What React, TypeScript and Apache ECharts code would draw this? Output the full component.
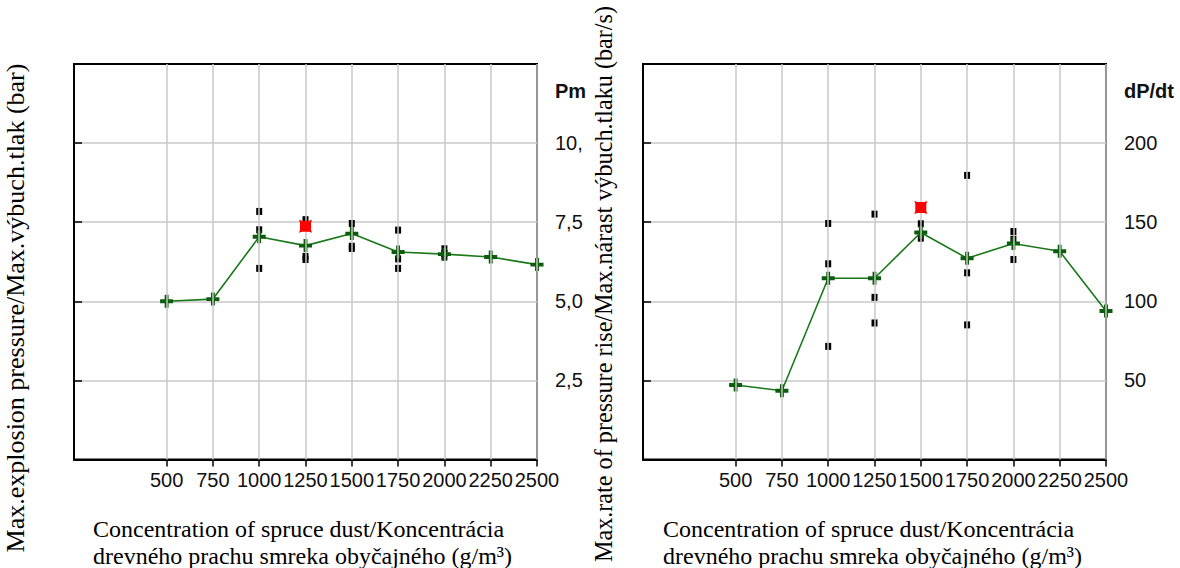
import React, { useEffect, useRef } from 'react';
import * as echarts from 'echarts';

// ---- data ----
const concentrations = [500, 750, 1000, 1250, 1500, 1750, 2000, 2250, 2500];
const xTickValues = [500, 750, 1000, 1250, 1500, 1750, 2000, 2250, 2500];

const pmaxMean = [5.0, 5.07, 7.04, 6.76, 7.14, 6.56, 6.49, 6.4, 6.16];
const pmaxRaw: [number, number][] = [
  [1000, 7.84], [1000, 7.26], [1000, 6.04],
  [1250, 7.58], [1250, 6.42], [1250, 6.32],
  [1500, 7.46], [1500, 6.74], [1500, 6.67],
  [1750, 7.25], [1750, 6.34], [1750, 6.04],
  [2000, 6.66], [2000, 6.51], [2000, 6.4],
];
const pmaxPeak: [number, number][] = [[1250, 7.37]];
const pmaxTicks = [2.5, 5, 7.5, 10];
const pmaxTickLabels = ['2,5', '5,0', '7,5', '10,'];

const dpdtMean = [47.1, 43.5, 114.6, 114.6, 143.5, 127.2, 136.5, 131.6, 93.9];
const dpdtRaw: [number, number][] = [
  [1000, 149.2], [1000, 123.7], [1000, 71.5],
  [1250, 155.1], [1250, 102.5], [1250, 86.3],
  [1500, 149.0], [1500, 139.9],
  [1750, 179.6], [1750, 118.0], [1750, 85.1],
  [2000, 144.1], [2000, 139.2], [2000, 126.4],
];
const dpdtPeak: [number, number][] = [[1500, 159.3]];
const dpdtTicks = [50, 100, 150, 200];
const dpdtTickLabels = ['50', '100', '150', '200'];

const xTitle = 'Concentration of spruce dust/Koncentrácia\ndrevného prachu smreka obyčajného (g/m³)';
const yTitleLeft = 'Max.explosion pressure/Max.výbuch.tlak (bar)';
const yTitleRight = 'Max.rate of pressure rise/Max.nárast výbuch.tlaku (bar/s)';

const PLUS = 'path://M3.5,0 H6.5 V3.5 H10 V6.5 H6.5 V10 H3.5 V6.5 H0 V3.5 H3.5 Z';
const PEAK = 'path://M0,0 L3,1 H10 L13,0 L12,3 V10 L13,13 L10,12 H3 L0,13 L1,10 V3 Z';

const SANS = 'Liberation Sans';
const SERIF = 'Liberation Serif';

export default function App() {
  const ref = useRef<HTMLDivElement>(null);

  useEffect(() => {
    const chart = echarts.init(ref.current!, null, { renderer: 'svg' });

    const makeX = (gi: number) => ({
      type: 'value',
      gridIndex: gi,
      min: 0,
      max: 2500,
      interval: 250,
      axisLine: { show: true, onZero: false, lineStyle: { color: '#000', width: 2 } },
      axisTick: { show: true, length: 7, customValues: xTickValues, lineStyle: { color: '#000', width: 1.5 } },
      axisLabel: {
        show: true,
        customValues: xTickValues,
        margin: 10,
        fontFamily: SANS,
        fontSize: 20,
        color: '#111',
        formatter: (v: number) => (xTickValues.indexOf(v) >= 0 ? String(v) : ''),
      },
      splitLine: { show: false },
    });

    const makeY = (gi: number, max: number, interval: number, ticks: number[], labels: string[]) => ({
      type: 'value',
      gridIndex: gi,
      position: 'right',
      min: 0,
      max,
      interval,
      axisLine: { show: true, lineStyle: { color: '#000', width: 2 } },
      axisTick: { show: true, length: 8, customValues: ticks, lineStyle: { color: '#000', width: 1.5 } },
      axisLabel: {
        show: true,
        customValues: ticks,
        margin: 18,
        fontFamily: SANS,
        fontSize: 20,
        color: '#111',
        formatter: (v: number) => {
          const i = ticks.indexOf(v);
          return i >= 0 ? labels[i] : '';
        },
      },
      splitLine: { show: true, lineStyle: { color: '#c8c8c8', width: 1.5 } },
    });

    const makeSeries = (
      gi: number,
      mean: number[],
      raw: [number, number][],
      peak: [number, number][]
    ) => [
      {
        type: 'scatter',
        xAxisIndex: gi,
        yAxisIndex: gi,
        data: [],
        z: 1,
        silent: true,
        markLine: {
          silent: true,
          symbol: ['none', 'none'],
          label: { show: false },
          lineStyle: { color: '#c8c8c8', width: 1.5, type: 'solid' },
          data: xTickValues.map((v) => ({ xAxis: v })),
        },
      },
      {
        type: 'scatter',
        xAxisIndex: gi,
        yAxisIndex: gi,
        data: raw,
        symbol: 'rect',
        symbolSize: [6, 7],
        itemStyle: { color: '#000', opacity: 1 },
        z: 3,
      },
      {
        type: 'line',
        xAxisIndex: gi,
        yAxisIndex: gi,
        data: concentrations.map((c, j) => [c, mean[j]]),
        symbol: PLUS,
        symbolSize: 13,
        showSymbol: true,
        itemStyle: { color: '#0b5d0b', opacity: 1 },
        lineStyle: { color: '#197819', width: 1.6 },
        z: 4,
      },
      {
        type: 'scatter',
        xAxisIndex: gi,
        yAxisIndex: gi,
        data: peak,
        symbol: PEAK,
        symbolSize: 13,
        itemStyle: { color: '#ff0000', opacity: 1 },
        z: 5,
      },
    ];

    const option: any = {
      animation: false,
      backgroundColor: '#fff',
      grid: [
        { left: 74, top: 64, width: 463, height: 395.5, show: true, borderColor: '#000', borderWidth: 2, backgroundColor: 'transparent' },
        { left: 643, top: 64, width: 463, height: 395.5, show: true, borderColor: '#000', borderWidth: 2, backgroundColor: 'transparent' },
      ],
      xAxis: [makeX(0), makeX(1)],
      yAxis: [
        makeY(0, 12.5, 2.5, pmaxTicks, pmaxTickLabels),
        makeY(1, 250, 50, dpdtTicks, dpdtTickLabels),
      ],
      series: [
        ...makeSeries(0, pmaxMean, pmaxRaw, pmaxPeak),
        ...makeSeries(1, dpdtMean, dpdtRaw, dpdtPeak),
      ],
      graphic: [
        {
          type: 'text', x: 555, y: 91,
          style: { text: 'Pm', fontFamily: SANS, fontSize: 20, fontWeight: 'bold', fill: '#111', align: 'left', verticalAlign: 'middle' },
        },
        {
          type: 'text', x: 1124, y: 91,
          style: { text: 'dP/dt', fontFamily: SANS, fontSize: 20, fontWeight: 'bold', fill: '#111', align: 'left', verticalAlign: 'middle' },
        },
        {
          type: 'text', x: 15, y: 308, rotation: Math.PI / 2,
          style: { text: yTitleLeft, fontFamily: SERIF, fontSize: 26, fill: '#000', align: 'center', verticalAlign: 'middle' },
        },
        {
          type: 'text', x: 603, y: 284, rotation: Math.PI / 2,
          style: { text: yTitleRight, fontFamily: SERIF, fontSize: 24.2, fill: '#000', align: 'center', verticalAlign: 'middle' },
        },
        {
          type: 'text', x: 93, y: 515,
          style: { text: xTitle, fontFamily: SERIF, fontSize: 24, lineHeight: 27, fill: '#000', align: 'left', verticalAlign: 'top' },
        },
        {
          type: 'text', x: 663, y: 515,
          style: { text: xTitle, fontFamily: SERIF, fontSize: 24, lineHeight: 27, fill: '#000', align: 'left', verticalAlign: 'top' },
        },
      ],
    };

    chart.setOption(option);
    return () => chart.dispose();
  }, []);

  return <div ref={ref} style={{ position: 'absolute', left: 0, top: 0, width: 1180, height: 568 }} />;
}
